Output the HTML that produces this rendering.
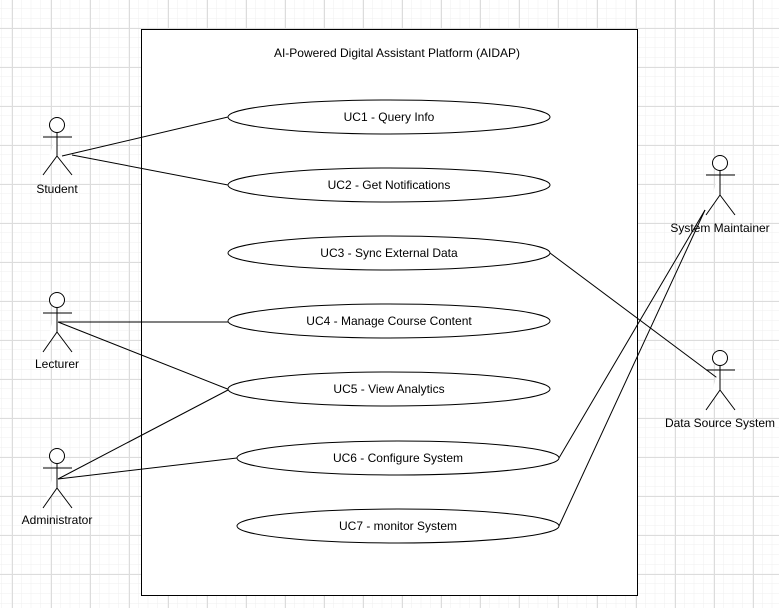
<!DOCTYPE html>
<html><head><meta charset="utf-8"><style>
html,body{margin:0;padding:0;background:#fff}
svg{display:block}
text{font-family:"Liberation Sans",Arial,sans-serif;font-size:12px;fill:#000}
</style></head><body>
<svg width="779" height="608" viewBox="0 0 779 608" xmlns="http://www.w3.org/2000/svg">
<defs>
<pattern id="minor" x="2" y="-1" width="9.75" height="9.75" patternUnits="userSpaceOnUse">
<path d="M9.75 0V9.75M0 9.75H9.75" stroke="#efefef" stroke-width="1" fill="none"/>
</pattern>
<pattern id="major" x="12" y="28" width="39" height="39" patternUnits="userSpaceOnUse">
<path d="M0.5 0V39M0 0.5H39" stroke="#dcdcdc" stroke-width="1" fill="none"/>
</pattern>
</defs>
<rect width="779" height="608" fill="url(#minor)"/>
<rect width="779" height="608" fill="url(#major)"/>
<rect x="141.5" y="29.5" width="496" height="566" fill="#fff" stroke="#000" stroke-width="1"/>
<text x="397" y="57" text-anchor="middle">AI-Powered Digital Assistant Platform (AIDAP)</text>
<g fill="none" stroke="#000" stroke-width="1">
<line x1="62" y1="156" x2="228" y2="117"/>
<line x1="72" y1="155" x2="228" y2="185"/>
<line x1="58" y1="322" x2="228" y2="322"/>
<line x1="58" y1="322" x2="230" y2="390"/>
<line x1="58" y1="479" x2="228" y2="390"/>
<line x1="58" y1="479" x2="237" y2="458"/>
<line x1="550" y1="253" x2="720" y2="380"/>
<line x1="559" y1="458" x2="705" y2="210"/>
<line x1="559" y1="526" x2="705" y2="210"/>
</g>
<g fill="#fff" stroke="#000" stroke-width="1">
<ellipse cx="389" cy="117" rx="161" ry="17"/>
<ellipse cx="389" cy="185" rx="161" ry="17"/>
<ellipse cx="389" cy="253" rx="161" ry="17"/>
<ellipse cx="389" cy="321" rx="161" ry="17"/>
<ellipse cx="389" cy="389" rx="161" ry="17"/>
<ellipse cx="398" cy="458" rx="161" ry="17"/>
<ellipse cx="398" cy="526" rx="161" ry="17"/>
</g>
<g text-anchor="middle">
<text x="389" y="121">UC1 - Query Info</text>
<text x="389" y="189">UC2 - Get Notifications</text>
<text x="389" y="257">UC3 - Sync External Data</text>
<text x="389" y="325">UC4 - Manage Course Content</text>
<text x="389" y="393">UC5 - View Analytics</text>
<text x="398" y="462">UC6 - Configure System</text>
<text x="398" y="530">UC7 - monitor System</text>
</g>
<g fill="#fff" stroke="#000" stroke-width="1">
<g transform="translate(57,125)"><circle cx="0" cy="0" r="7.5"/><path d="M-14 12H15M0 7.5V31L-14 50M0 31L15 50"/></g>
<g transform="translate(57,300)"><circle cx="0" cy="0" r="7.5"/><path d="M-14 13H15M0 7.5V32L-14 52M0 32L15 52"/></g>
<g transform="translate(57,456)"><circle cx="0" cy="0" r="7.5"/><path d="M-14 12H15M0 7.5V32L-14 52M0 32L15 52"/></g>
<g transform="translate(720,163)"><circle cx="0" cy="0" r="7.5"/><path d="M-14 12H15M0 7.5V32L-14 52M0 32L15 52"/></g>
<g transform="translate(720,358)"><circle cx="0" cy="0" r="7.5"/><path d="M-14 12H15M0 7.5V32L-14 52M0 32L15 52"/></g>
</g>
<g text-anchor="middle">
<text x="57" y="193">Student</text>
<text x="57" y="368">Lecturer</text>
<text x="57" y="524">Administrator</text>
<text x="720" y="232">System Maintainer</text>
<text x="720" y="427">Data Source System</text>
</g>
</svg>
</body></html>
